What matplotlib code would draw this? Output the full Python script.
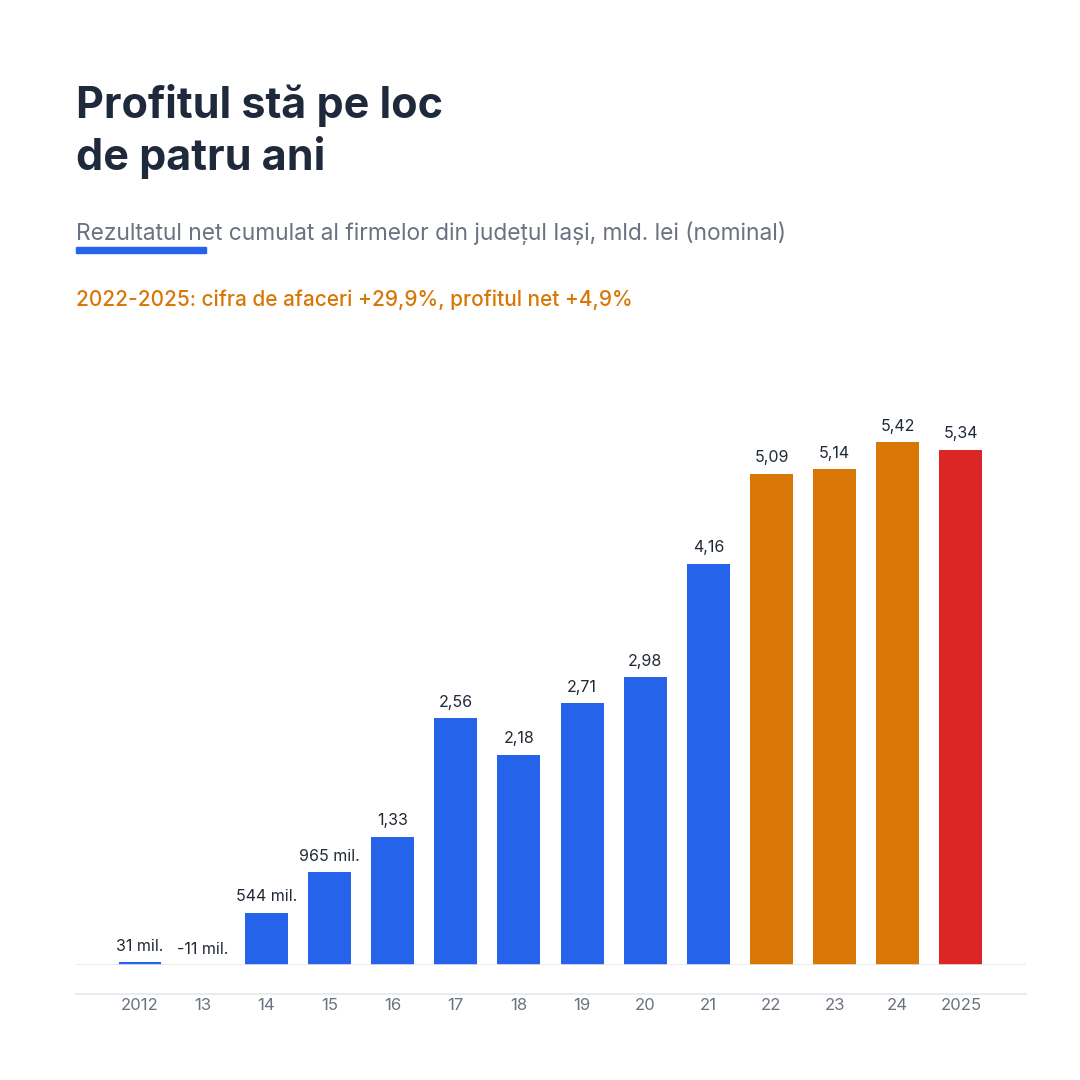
import matplotlib
matplotlib.use('Agg')
import matplotlib.pyplot as plt
from matplotlib.patches import Rectangle

plt.rcParams['font.family'] = ['Inter', 'DejaVu Sans']

# ── Date ──
ani = ["2012", "13", "14", "15", "16", "17", "18", "19", "20", "21", "22", "23", "24", "2025"]
profit = [0.031, -0.011, 0.544, 0.965, 1.33, 2.56, 2.18, 2.71, 2.98, 4.16, 5.09, 5.14, 5.42, 5.34]
etichete = ["31 mil.", "-11 mil.", "544 mil.", "965 mil.", "1,33", "2,56", "2,18", "2,71",
            "2,98", "4,16", "5,09", "5,14", "5,42", "5,34"]
grupe = ["b"] * 10 + ["o"] * 3 + ["r"]

culori = {"b": "#2563eb", "o": "#d97706", "r": "#dc2626"}
TITLU = "#1e2a3b"
GRI = "#6b7280"

W = H = 1080
fig = plt.figure(figsize=(10.8, 10.8), dpi=100)

# axe: baza la y=965 px, de la x=76 la x=1026
y0, y1 = 965, 400
ax = fig.add_axes([76 / W, 1 - y0 / H, (1026 - 76) / W, (y0 - y1) / H])
ax.set_xlim(-1.013, 14.03)
ax.set_ylim(0, (y0 - y1) / 96.5)

x = range(len(ani))
# bara negativa (-11 mil.) e taiata la baza, ca in original
ax.bar(x, profit, width=0.68, color=[culori[g] for g in grupe], zorder=2)

for i, (v, t) in enumerate(zip(profit, etichete)):
    ax.annotate(t, (i, max(v, 0)), xytext=(0, 6), textcoords='offset points',
                ha='center', va='bottom', fontsize=11.5, color="#1f2937")

ax.axhline(0, color="#e5e7eb", lw=1.2, zorder=3)
ax.axhline(-29 / 96.5, color="#e5e7eb", lw=1.2, clip_on=False)

ax.set_xticks(list(x))
ax.set_xticklabels(ani, fontsize=12, color=GRI)
ax.tick_params(axis='x', length=0, pad=24)
ax.set_yticks([])
for s in ax.spines.values():
    s.set_visible(False)

# ── Texte ──
fig.text(76 / W, 1 - 118 / H, "Profitul stă pe loc", fontsize=31, fontweight='bold',
         color=TITLU, ha='left', va='baseline')
fig.text(76 / W, 1 - 170 / H, "de patru ani", fontsize=31, fontweight='bold',
         color=TITLU, ha='left', va='baseline')
fig.text(76 / W, 1 - 233 / H, "Rezultatul net cumulat al firmelor din județul Iași, mld. lei (nominal)",
         fontsize=16.4, color=GRI, ha='left', va='center')
fig.patches.append(Rectangle((76 / W, 1 - 253 / H), 130 / W, 6 / H,
                             transform=fig.transFigure, color="#2563eb"))
fig.text(76 / W, 1 - 300 / H, "2022-2025: cifra de afaceri +29,9%, profitul net +4,9%",
         fontsize=15, color="#d97706", fontweight='medium', ha='left', va='center')

fig.savefig("out.png", dpi=100, facecolor='white')
